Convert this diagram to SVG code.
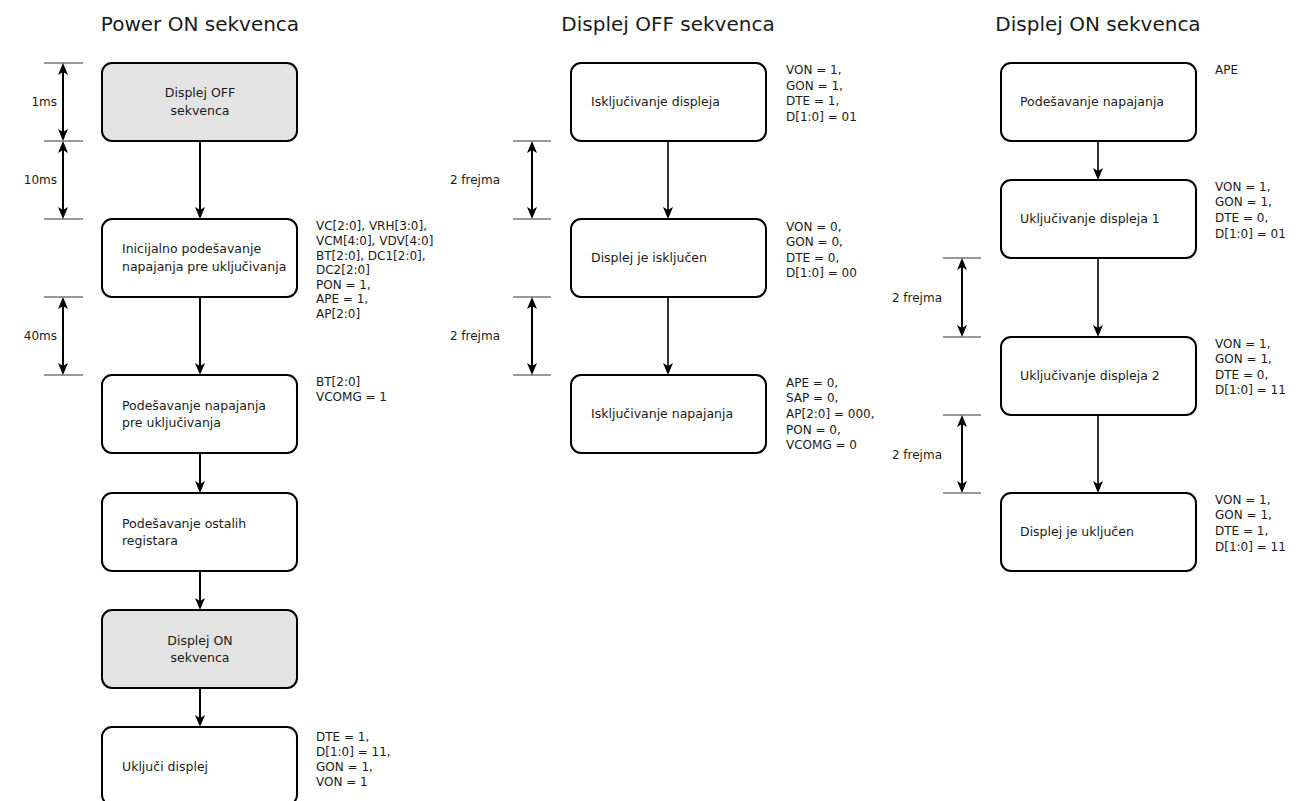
<svg xmlns="http://www.w3.org/2000/svg" width="1298" height="801" viewBox="0 0 1298 801">
<style>
text{font-family:"DejaVu Sans","Liberation Sans",sans-serif;fill:#1a1a1a}
.title{font-size:20px}
.bt{font-size:12.5px}
.an{font-size:12px}
.dl{font-size:12px}
.box{fill:#fff;stroke:#000;stroke-width:2}
.gray{fill:#e3e3e3}
.con{stroke:#000;stroke-width:2;fill:none;marker-end:url(#ah)}
.con2{stroke:#000;stroke-width:1.6;fill:none;marker-end:url(#ah)}
.dim{stroke:#000;stroke-width:2;fill:none;marker-end:url(#ah);marker-start:url(#ah)}
.tick{stroke:#333;stroke-width:1}
</style>
<defs>
<marker id="ah" viewBox="0 0 12 10" refX="4" refY="5" markerWidth="12" markerHeight="10" orient="auto-start-reverse" markerUnits="userSpaceOnUse">
<path d="M0,0 L12,5 L0,10 L3,5 z" fill="#000"/>
</marker>
</defs>
<rect width="1298" height="801" fill="#fff"/>

<text class="title" x="200" y="31" text-anchor="middle">Power ON sekvenca</text>
<text class="title" x="668" y="31" text-anchor="middle">Displej OFF sekvenca</text>
<text class="title" x="1098" y="31" text-anchor="middle">Displej ON sekvenca</text>

<g id="connectors">
<line class="con" x1="200" y1="141" x2="200" y2="211"/>
<line class="con" x1="200" y1="297" x2="200" y2="367"/>
<line class="con" x1="200" y1="453" x2="200" y2="485"/>
<line class="con" x1="200" y1="571" x2="200" y2="602"/>
<line class="con" x1="200" y1="688" x2="200" y2="719"/>
<line class="con2" x1="668" y1="141" x2="668" y2="211"/>
<line class="con2" x1="668" y1="297" x2="668" y2="367"/>
<line class="con2" x1="1098" y1="141" x2="1098" y2="172"/>
<line class="con2" x1="1098" y1="258" x2="1098" y2="329"/>
<line class="con2" x1="1098" y1="415" x2="1098" y2="485"/>
</g>

<g id="dimensions">
<line class="tick" x1="44" y1="63" x2="83" y2="63"/>
<line class="tick" x1="44" y1="141" x2="83" y2="141"/>
<line class="tick" x1="44" y1="219" x2="83" y2="219"/>
<line class="tick" x1="44" y1="297" x2="83" y2="297"/>
<line class="tick" x1="44" y1="375" x2="83" y2="375"/>
<line class="dim" x1="63" y1="71" x2="63" y2="133"/>
<line class="dim" x1="63" y1="149" x2="63" y2="211"/>
<line class="dim" x1="63" y1="305" x2="63" y2="367"/>
<text class="dl" x="57" y="106" text-anchor="end">1ms</text>
<text class="dl" x="57" y="184" text-anchor="end">10ms</text>
<text class="dl" x="57" y="340" text-anchor="end">40ms</text>

<line class="tick" x1="513" y1="141" x2="551" y2="141"/>
<line class="tick" x1="513" y1="219" x2="551" y2="219"/>
<line class="tick" x1="513" y1="297" x2="551" y2="297"/>
<line class="tick" x1="513" y1="375" x2="551" y2="375"/>
<line class="dim" x1="532" y1="149" x2="532" y2="211"/>
<line class="dim" x1="532" y1="305" x2="532" y2="367"/>
<text class="dl" x="500" y="184" text-anchor="end">2 frejma</text>
<text class="dl" x="500" y="340" text-anchor="end">2 frejma</text>

<line class="tick" x1="943" y1="258" x2="981" y2="258"/>
<line class="tick" x1="943" y1="337" x2="981" y2="337"/>
<line class="tick" x1="943" y1="415" x2="981" y2="415"/>
<line class="tick" x1="943" y1="493" x2="981" y2="493"/>
<line class="dim" x1="962" y1="266" x2="962" y2="329"/>
<line class="dim" x1="962" y1="423" x2="962" y2="485"/>
<text class="dl" x="942" y="302" text-anchor="end">2 frejma</text>
<text class="dl" x="942" y="459" text-anchor="end">2 frejma</text>
</g>

<!-- Column 1 -->
<g id="p1">
<rect class="box gray" x="102" y="63" width="195" height="78" rx="10"/>
<text class="bt" x="200" y="97" text-anchor="middle">Displej OFF</text>
<text class="bt" x="200" y="115" text-anchor="middle">sekvenca</text>
</g>
<g id="p2">
<rect class="box" x="102" y="219" width="195" height="78" rx="10"/>
<text class="bt" x="122" y="253">Inicijalno podešavanje</text>
<text class="bt" x="122" y="271">napajanja pre uključivanja</text>
<text class="an" x="316" y="230">VC[2:0], VRH[3:0],</text>
<text class="an" x="316" y="245">VCM[4:0], VDV[4:0]</text>
<text class="an" x="316" y="260">BT[2:0], DC1[2:0],</text>
<text class="an" x="316" y="274">DC2[2:0]</text>
<text class="an" x="316" y="289">PON = 1,</text>
<text class="an" x="316" y="303">APE = 1,</text>
<text class="an" x="316" y="318">AP[2:0]</text>
</g>
<g id="p3">
<rect class="box" x="102" y="375" width="195" height="78" rx="10"/>
<text class="bt" x="122" y="410">Podešavanje napajanja</text>
<text class="bt" x="122" y="427">pre uključivanja</text>
<text class="an" x="316" y="386">BT[2:0]</text>
<text class="an" x="316" y="401">VCOMG = 1</text>
</g>
<g id="p4">
<rect class="box" x="102" y="493" width="195" height="78" rx="10"/>
<text class="bt" x="122" y="528">Podešavanje ostalih</text>
<text class="bt" x="122" y="545">registara</text>
</g>
<g id="p5">
<rect class="box gray" x="102" y="610" width="195" height="78" rx="10"/>
<text class="bt" x="200" y="645" text-anchor="middle">Displej ON</text>
<text class="bt" x="200" y="662" text-anchor="middle">sekvenca</text>
</g>
<g id="p6">
<rect class="box" x="102" y="727" width="195" height="78" rx="10"/>
<text class="bt" x="122" y="771">Uključi displej</text>
<text class="an" x="316" y="741">DTE = 1,</text>
<text class="an" x="316" y="756">D[1:0] = 11,</text>
<text class="an" x="316" y="771">GON = 1,</text>
<text class="an" x="316" y="786">VON = 1</text>
</g>

<!-- Column 2 -->
<g id="o1">
<rect class="box" x="571" y="63" width="195" height="78" rx="10"/>
<text class="bt" x="591" y="106">Isključivanje displeja</text>
<text class="an" x="786" y="74">VON = 1,</text>
<text class="an" x="786" y="90">GON = 1,</text>
<text class="an" x="786" y="105">DTE = 1,</text>
<text class="an" x="786" y="121">D[1:0] = 01</text>
</g>
<g id="o2">
<rect class="box" x="571" y="219" width="195" height="78" rx="10"/>
<text class="bt" x="591" y="262">Displej je isključen</text>
<text class="an" x="786" y="231">VON = 0,</text>
<text class="an" x="786" y="246">GON = 0,</text>
<text class="an" x="786" y="262">DTE = 0,</text>
<text class="an" x="786" y="277">D[1:0] = 00</text>
</g>
<g id="o3">
<rect class="box" x="571" y="375" width="195" height="78" rx="10"/>
<text class="bt" x="591" y="418">Isključivanje napajanja</text>
<text class="an" x="786" y="387">APE = 0,</text>
<text class="an" x="786" y="402">SAP = 0,</text>
<text class="an" x="786" y="418">AP[2:0] = 000,</text>
<text class="an" x="786" y="434">PON = 0,</text>
<text class="an" x="786" y="449">VCOMG = 0</text>
</g>

<!-- Column 3 -->
<g id="n1">
<rect class="box" x="1001" y="63" width="195" height="78" rx="10"/>
<text class="bt" x="1020" y="106">Podešavanje napajanja</text>
<text class="an" x="1215" y="74">APE</text>
</g>
<g id="n2">
<rect class="box" x="1001" y="180" width="195" height="78" rx="10"/>
<text class="bt" x="1020" y="223">Uključivanje displeja 1</text>
<text class="an" x="1215" y="191">VON = 1,</text>
<text class="an" x="1215" y="206">GON = 1,</text>
<text class="an" x="1215" y="222">DTE = 0,</text>
<text class="an" x="1215" y="238">D[1:0] = 01</text>
</g>
<g id="n3">
<rect class="box" x="1001" y="337" width="195" height="78" rx="10"/>
<text class="bt" x="1020" y="380">Uključivanje displeja 2</text>
<text class="an" x="1215" y="348">VON = 1,</text>
<text class="an" x="1215" y="363">GON = 1,</text>
<text class="an" x="1215" y="379">DTE = 0,</text>
<text class="an" x="1215" y="394">D[1:0] = 11</text>
</g>
<g id="n4">
<rect class="box" x="1001" y="493" width="195" height="78" rx="10"/>
<text class="bt" x="1020" y="536">Displej je uključen</text>
<text class="an" x="1215" y="504">VON = 1,</text>
<text class="an" x="1215" y="519">GON = 1,</text>
<text class="an" x="1215" y="535">DTE = 1,</text>
<text class="an" x="1215" y="551">D[1:0] = 11</text>
</g>
</svg>
